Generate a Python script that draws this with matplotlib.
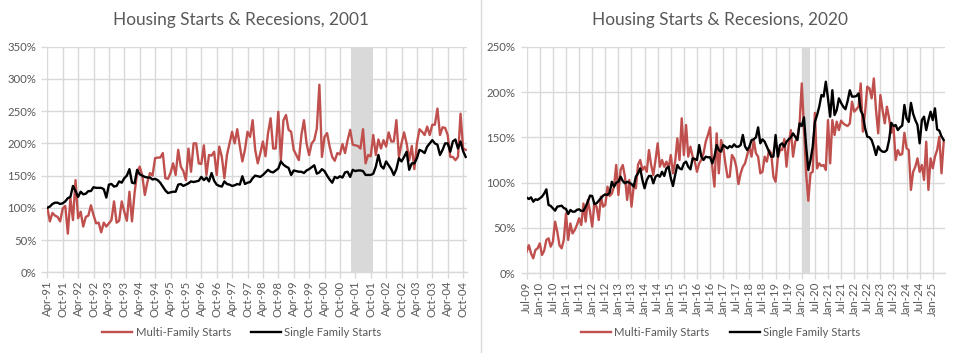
import matplotlib
matplotlib.use('Agg')
import matplotlib.pyplot as plt
from matplotlib.lines import Line2D
from matplotlib.ticker import FuncFormatter

# ---------------- data ----------------
left_ticklabels = ['Apr-91', 'Oct-91', 'Apr-92', 'Oct-92', 'Apr-93', 'Oct-93', 'Apr-94',
                   'Oct-94', 'Apr-95', 'Oct-95', 'Apr-96', 'Oct-96', 'Apr-97', 'Oct-97',
                   'Apr-98', 'Oct-98', 'Apr-99', 'Oct-99', 'Apr-00', 'Oct-00', 'Apr-01',
                   'Oct-01', 'Apr-02', 'Oct-02', 'Apr-03', 'Oct-03', 'Apr-04', 'Oct-04']

# monthly, Apr-91 .. Nov-04, % of Apr-91
left_multi = [100, 79, 92, 88, 86, 79, 99, 103, 60, 115,
              81, 143, 84, 94, 71, 86, 88, 104, 89, 76,
              77, 62, 77, 71, 76, 81, 110, 77, 80, 110,
              94, 80, 125, 79, 123, 154, 164, 150, 120, 140,
              154, 150, 177, 178, 178, 185, 146, 145, 154, 169,
              151, 190, 164, 157, 143, 192, 156, 200, 200, 169,
              168, 197, 151, 182, 181, 187, 151, 195, 179, 146,
              182, 200, 218, 200, 222, 196, 172, 190, 218, 210,
              236, 190, 169, 185, 203, 180, 216, 239, 192, 192,
              249, 174, 236, 244, 221, 218, 190, 182, 174, 213,
              236, 200, 182, 200, 205, 223, 291, 179, 210, 216,
              195, 179, 173, 185, 183, 199, 185, 205, 221, 198,
              197, 196, 192, 222, 169, 182, 180, 213, 182, 206,
              192, 205, 195, 217, 203, 203, 236, 179, 200, 217,
              200, 174, 196, 160, 200, 222, 218, 213, 226, 213,
              229, 229, 254, 213, 225, 224, 213, 179, 179, 174,
              179, 246, 192, 190]

left_single = [100, 102, 106, 108, 108, 106, 107, 110, 115, 117,
               134, 126, 117, 125, 121, 122, 126, 126, 132, 131,
               131, 131, 129, 116, 136, 137, 133, 134, 141, 139,
               146, 150, 160, 139, 138, 159, 152, 150, 148, 147,
               147, 144, 145, 143, 139, 133, 127, 123, 124, 125,
               125, 136, 137, 134, 136, 138, 141, 140, 141, 142,
               148, 143, 147, 141, 154, 142, 136, 134, 133, 141,
               137, 136, 134, 135, 137, 136, 149, 137, 139, 140,
               146, 150, 149, 148, 151, 155, 159, 156, 155, 158,
               161, 172, 167, 164, 162, 151, 158, 157, 156, 156,
               154, 158, 160, 163, 166, 153, 155, 160, 157, 150,
               144, 139, 148, 146, 149, 147, 155, 156, 148, 159,
               157, 158, 158, 157, 151, 151, 151, 153,
               164, 182, 165, 161, 172, 166, 160, 151, 160, 177,
               172, 179, 187, 159, 169, 169, 177, 190, 188, 185,
               195, 200, 205, 200, 198, 182, 190, 200, 200, 187,
               203, 206, 192, 203, 188, 179]

left_recession = (118.3, 127.0)   # Mar-01 .. Nov-01 (month index)

right_ticklabels = ['Jul-09', 'Jan-10', 'Jul-10', 'Jan-11', 'Jul-11', 'Jan-12', 'Jul-12',
                    'Jan-13', 'Jul-13', 'Jan-14', 'Jul-14', 'Jan-15', 'Jul-15', 'Jan-16',
                    'Jul-16', 'Jan-17', 'Jul-17', 'Jan-18', 'Jul-18', 'Jan-19', 'Jul-19',
                    'Jan-20', 'Jul-20', 'Jan-21', 'Jul-21', 'Jan-22', 'Jul-22', 'Jan-23',
                    'Jul-23', 'Jan-24', 'Jul-24', 'Jan-25']

# monthly, Jul-09 .. Jun-25
right_multi = [24, 31, 22, 16.5, 25.7, 27.6, 33, 20.2, 25, 36.8,
               38.6, 29.4, 35, 57, 46, 31, 27.6, 36.8, 66, 36.8,
               55, 44, 47.8, 53.3, 60.7, 53.3, 77, 57, 81, 68,
               51.5, 77, 73.5, 58.8, 84.6, 73.5, 75.4, 95.6, 85.3, 88,
               95.6, 119.5, 86.4, 114, 119.5, 106.6, 81, 103, 73.5, 95.6,
               93.8, 120, 125, 114, 117.6, 112, 136, 119.5, 108.5, 125,
               143.4, 117.6, 125, 117.6, 123.2, 115.8, 130.5, 110.3, 123.2, 148.9,
               125, 171, 130.5, 163.6, 128.7, 139.7, 128.7, 123.2, 112, 121.3,
               125, 132.4, 145.2, 152.6, 161, 117.6, 95.6, 154.4, 110.3, 147,
               139.7, 121.3, 105.9, 106.6, 130.5, 126.8, 117.6, 98.5, 110.3, 117.6,
               121.3, 130.5, 139.7, 128.7, 147, 132.4, 128.7, 110.3, 112, 128.7,
               123.2, 136, 132.4, 106.6, 101, 126.8, 136, 136, 148, 117.6,
               142.6, 158, 128.7, 145.2, 150, 165.4, 209.5, 160, 110, 80,
               110.3, 112, 177, 115.8, 121.3, 118.4, 119.5, 114, 169, 121.3,
               169, 152.6, 167.3, 158, 168.4, 165.4, 163.6, 162.5, 165.4, 189.3,
               178.3, 180.9, 183.8, 209.5, 156.3, 178, 205.9, 204, 193, 215,
               180, 154.4, 196.7, 180, 165.4, 183.8, 171, 155, 161.8, 125,
               136, 130.5, 131.6, 155, 137.9, 136, 92, 112, 117.6, 126.8,
               112, 119.5, 103, 145.2, 92, 126.8, 115.8, 128.7, 136, 150.7,
               110.3, 145]

right_single = [83.5, 82, 83.8, 79, 81.6, 81, 82.7, 84.6, 88, 92.6,
                75.4, 74.3, 71.7, 69.1, 73.5, 74, 74.6, 72, 71, 65.4,
                69.9, 68, 68, 70, 70.6, 68.8, 69, 73.5, 79, 85.7,
                85.3, 76.5, 77.2, 80, 82.7, 85.7, 87.1, 86.4, 89, 101,
                95.6, 100, 101, 106.6, 101.8, 99.3, 101, 100, 98.5, 95.6,
                106.6, 110.3, 115.8, 102.9, 93.8, 102.9, 107.4, 107.4, 99.3, 106.6,
                108.5, 106.6, 112, 107.4, 115.8, 117.6, 105, 96.3, 108.5, 119.5,
                115.8, 114.7, 121.3, 123.2, 117.6, 114.7, 126.8, 126.1, 125, 141.5,
                128.7, 125, 128.7, 128, 128, 121.3, 128.7, 141.5, 136, 134.2,
                141.5, 139.7, 137.9, 140.4, 139, 142.3, 139.7, 139.7, 141.5, 152.6,
                140, 136, 139.7, 147, 147.8, 150, 161, 143.4, 147.8, 145.2,
                139.7, 134, 128.7, 128.7, 152.6, 128.7, 141.5, 143.4, 139.7, 145.2,
                147.8, 150, 154.4, 150.7, 147, 165.4, 162.5, 172, 140, 114,
                125, 139.7, 167, 174.6, 183.8, 196.7, 195, 211.4, 193, 172.8,
                202, 174.6, 180, 193, 188, 183.8, 181, 190, 202, 194.9,
                195, 195.5, 198.5, 179.4, 174.6, 160, 150.7, 150, 147, 139.7,
                130.5, 140, 136, 134.2, 134, 136, 147, 166, 162.5, 163.6,
                158, 161, 163, 185.7, 171, 167, 188, 176, 169, 163.6,
                143.4, 169, 172.8, 158, 169, 178.3, 169, 182, 158.8, 157.4,
                151, 147]

right_recession = (126.3, 129.8)  # Feb-20 .. Apr-20 (month index)

# ---------------- style ----------------
FONT = ['Lato', 'DejaVu Sans']
plt.rcParams['font.family'] = FONT
TXT = '#595959'
GRID = '#d9d9d9'
RED = '#C0504D'
W, H = 959, 353

fig = plt.figure(figsize=(W / 100, H / 100), dpi=100)
fig.patch.set_facecolor('white')


def make_panel(rect, multi, single, ticklabels, recession, ymax, xmax):
    ax = fig.add_axes(rect)
    x_multi = list(range(len(multi)))
    x_single = list(range(len(single)))
    ax.axvspan(recession[0], recession[1], color=GRID, lw=0, zorder=1)
    ax.plot(x_multi, multi, color=RED, lw=1.7, zorder=3, solid_joinstyle='round')
    ax.plot(x_single, single, color='black', lw=1.7, zorder=4, solid_joinstyle='round')
    ax.set_xlim(0, xmax)
    ax.set_ylim(0, ymax)
    ax.set_xticks([6 * i for i in range(len(ticklabels))])
    ax.set_xticklabels(ticklabels, rotation=90)
    ax.set_yticks(range(0, ymax + 1, 50))
    ax.yaxis.set_major_formatter(FuncFormatter(lambda v, p: f'{v:.0f}%'))
    ax.grid(True, color=GRID, lw=1.0, zorder=0)
    ax.set_axisbelow(True)
    for s in ('left', 'top', 'right'):
        ax.spines[s].set_visible(False)
    ax.spines['bottom'].set_color(GRID)
    ax.spines['bottom'].set_linewidth(1.0)
    ax.tick_params(axis='x', length=4, width=1.0, color=GRID, pad=2,
                   labelsize=8.2, labelcolor=TXT)
    ax.tick_params(axis='y', length=4, width=1.0, color=GRID, pad=4,
                   labelsize=8.2, labelcolor=TXT)
    return ax


axL = make_panel([47.3 / W, (H - 272.3) / H, 419.4 / W, 225.6 / H],
                 left_multi, left_single, left_ticklabels, left_recession, 350, 163.4)
axR = make_panel([526.7 / W, (H - 273.3) / H, 418.3 / W, 226.6 / H],
                 right_multi, right_single, right_ticklabels, right_recession, 250, 191.6)

# titles
fig.text(241 / W, 1 - 24.5 / H, 'Housing Starts & Recesions, 2001', ha='center',
         va='baseline', fontsize=12.4, color=TXT)
fig.text(720 / W, 1 - 24.5 / H, 'Housing Starts & Recesions, 2020', ha='center',
         va='baseline', fontsize=12.4, color=TXT)

# legends
handles = [Line2D([], [], color=RED, lw=1.7), Line2D([], [], color='black', lw=1.7)]
labels = ['Multi-Family Starts', 'Single Family Starts']
for cx in (242, 721):
    fig.legend(handles, labels, loc='center', bbox_to_anchor=(cx / W, 1 - 332.5 / H),
               ncol=2, frameon=False, fontsize=8.2, handlelength=2.6, handletextpad=0.3,
               columnspacing=1.8, labelcolor=TXT)

# separator between the two charts
fig.add_artist(Line2D([480.7 / W, 480.7 / W], [0, 1], color=GRID, lw=1.0))

fig.savefig('out.png', dpi=100)
